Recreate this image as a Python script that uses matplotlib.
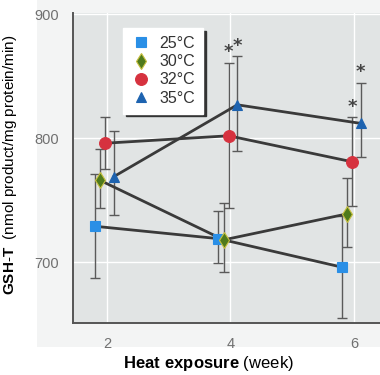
import matplotlib.pyplot as plt
import numpy as np
from matplotlib.lines import Line2D
from matplotlib.patches import Rectangle

plt.rcParams['font.family'] = ['Liberation Sans', 'DejaVu Sans']
plt.rcParams['mathtext.fontset'] = 'custom'
plt.rcParams['mathtext.rm'] = 'Liberation Sans'
plt.rcParams['mathtext.bf'] = 'Liberation Sans:bold'

weeks = [2, 4, 6]
labels = ['25°C', '30°C', '32°C', '35°C']
means = {
    '25°C': [729, 719, 696],
    '30°C': [766, 718, 739],
    '32°C': [796, 802, 781],
    '35°C': [769, 827, 812],
}
upper = {
    '25°C': [771, 741, 737],
    '30°C': [791, 748, 768],
    '32°C': [817, 861, 817],
    '35°C': [806, 866, 845],
}
lower = {
    '25°C': [687, 699, 655],
    '30°C': [744, 692, 712],
    '32°C': [775, 744, 745],
    '35°C': [738, 790, 785],
}
# (series, week) pairs marked significant
starred = [('32°C', 4), ('35°C', 4), ('32°C', 6), ('35°C', 6)]

offsets = {'25°C': -0.2, '30°C': -0.11, '32°C': -0.03, '35°C': 0.11}
styles = {
    '25°C': dict(marker='s', color='#2a8fe6', mec='#2a8fe6', ms=7),
    '30°C': dict(marker='d', color='#4f7a1c', mec='#c8c040', ms=8.5),
    '32°C': dict(marker='o', color='#d6323f', mec='#d6323f', ms=8.5),
    '35°C': dict(marker='^', color='#1d63b0', mec='#1d63b0', ms=7.5),
}

fig = plt.figure(figsize=(3.8, 3.75), dpi=100)
bg = fig.add_axes([0.097, 0.075, 0.903, 0.925], zorder=0)
bg.axis('off')
bg.add_patch(Rectangle((0, 0), 1, 1, transform=bg.transAxes, color='#f3f4f4'))
ax = fig.add_axes([0.192, 0.139, 0.808, 0.826], zorder=1)
ax.set_facecolor('#e1e4e4')

for lab in labels:
    x = np.array(weeks) + offsets[lab]
    m = np.array(means[lab])
    err = [m - np.array(lower[lab]), np.array(upper[lab]) - m]
    ax.errorbar(x, m, yerr=err, fmt='none', ecolor='#5a5a5a', elinewidth=1,
                capsize=3.8, capthick=1, zorder=2)
    ax.plot(x, m, color='#3a3a3a', lw=2, zorder=3)
    st = styles[lab]
    ax.plot(x, m, ls='none', marker=st['marker'], color=st['color'],
            mec=st['mec'], ms=st['ms'], mew=0.8, zorder=4)

for lab, wk in starred:
    i = weeks.index(wk)
    ax.annotate('*', (wk + offsets[lab], upper[lab][i]), xytext=(0, 1),
                textcoords='offset points', ha='center', va='bottom',
                fontsize=13, fontweight='bold', color='#444444',
                family='DejaVu Sans')

ax.set_xlim(1.45, 6.42)
ax.set_ylim(651, 901)
ax.set_xticks(weeks)
ax.set_yticks([700, 800, 900])
ax.grid(True, color='white', lw=1)
ax.set_axisbelow(True)
ax.tick_params(length=0, labelsize=10.5, labelcolor='#707070', pad=10)
for s in ['top', 'right']:
    ax.spines[s].set_visible(False)
for s in ['left', 'bottom']:
    ax.spines[s].set_color('#555555')
    ax.spines[s].set_linewidth(1.4)

ax.set_xlabel(r'$\bf{Heat\ exposure}$ (week)', fontsize=12)
ax.xaxis.set_label_coords(0.44, -0.1)
ax.set_ylabel(r'$\bf{GSH\text{-}T}$  (nmol product/mg protein/min)', fontsize=11)
ax.yaxis.set_label_coords(-0.175, 0.51)

handles = [Line2D([], [], ls='none', marker=styles[l]['marker'], color=styles[l]['color'],
                  mec=styles[l]['mec'], ms=styles[l]['ms'], mew=0.8) for l in labels]
leg = ax.legend(handles, labels, loc='upper left', bbox_to_anchor=(0.163, 0.952),
                borderaxespad=0, frameon=True, fancybox=False, edgecolor='white',
                facecolor='white', framealpha=1, fontsize=11.5, labelspacing=0.2,
                handletextpad=0.6, handlelength=1.2, borderpad=0.5,
                shadow={'color': '#333333', 'alpha': 1, 'ox': 2, 'oy': -2})
for t in leg.get_texts():
    t.set_color('#333333')

fig.savefig('out.png', dpi=100)
